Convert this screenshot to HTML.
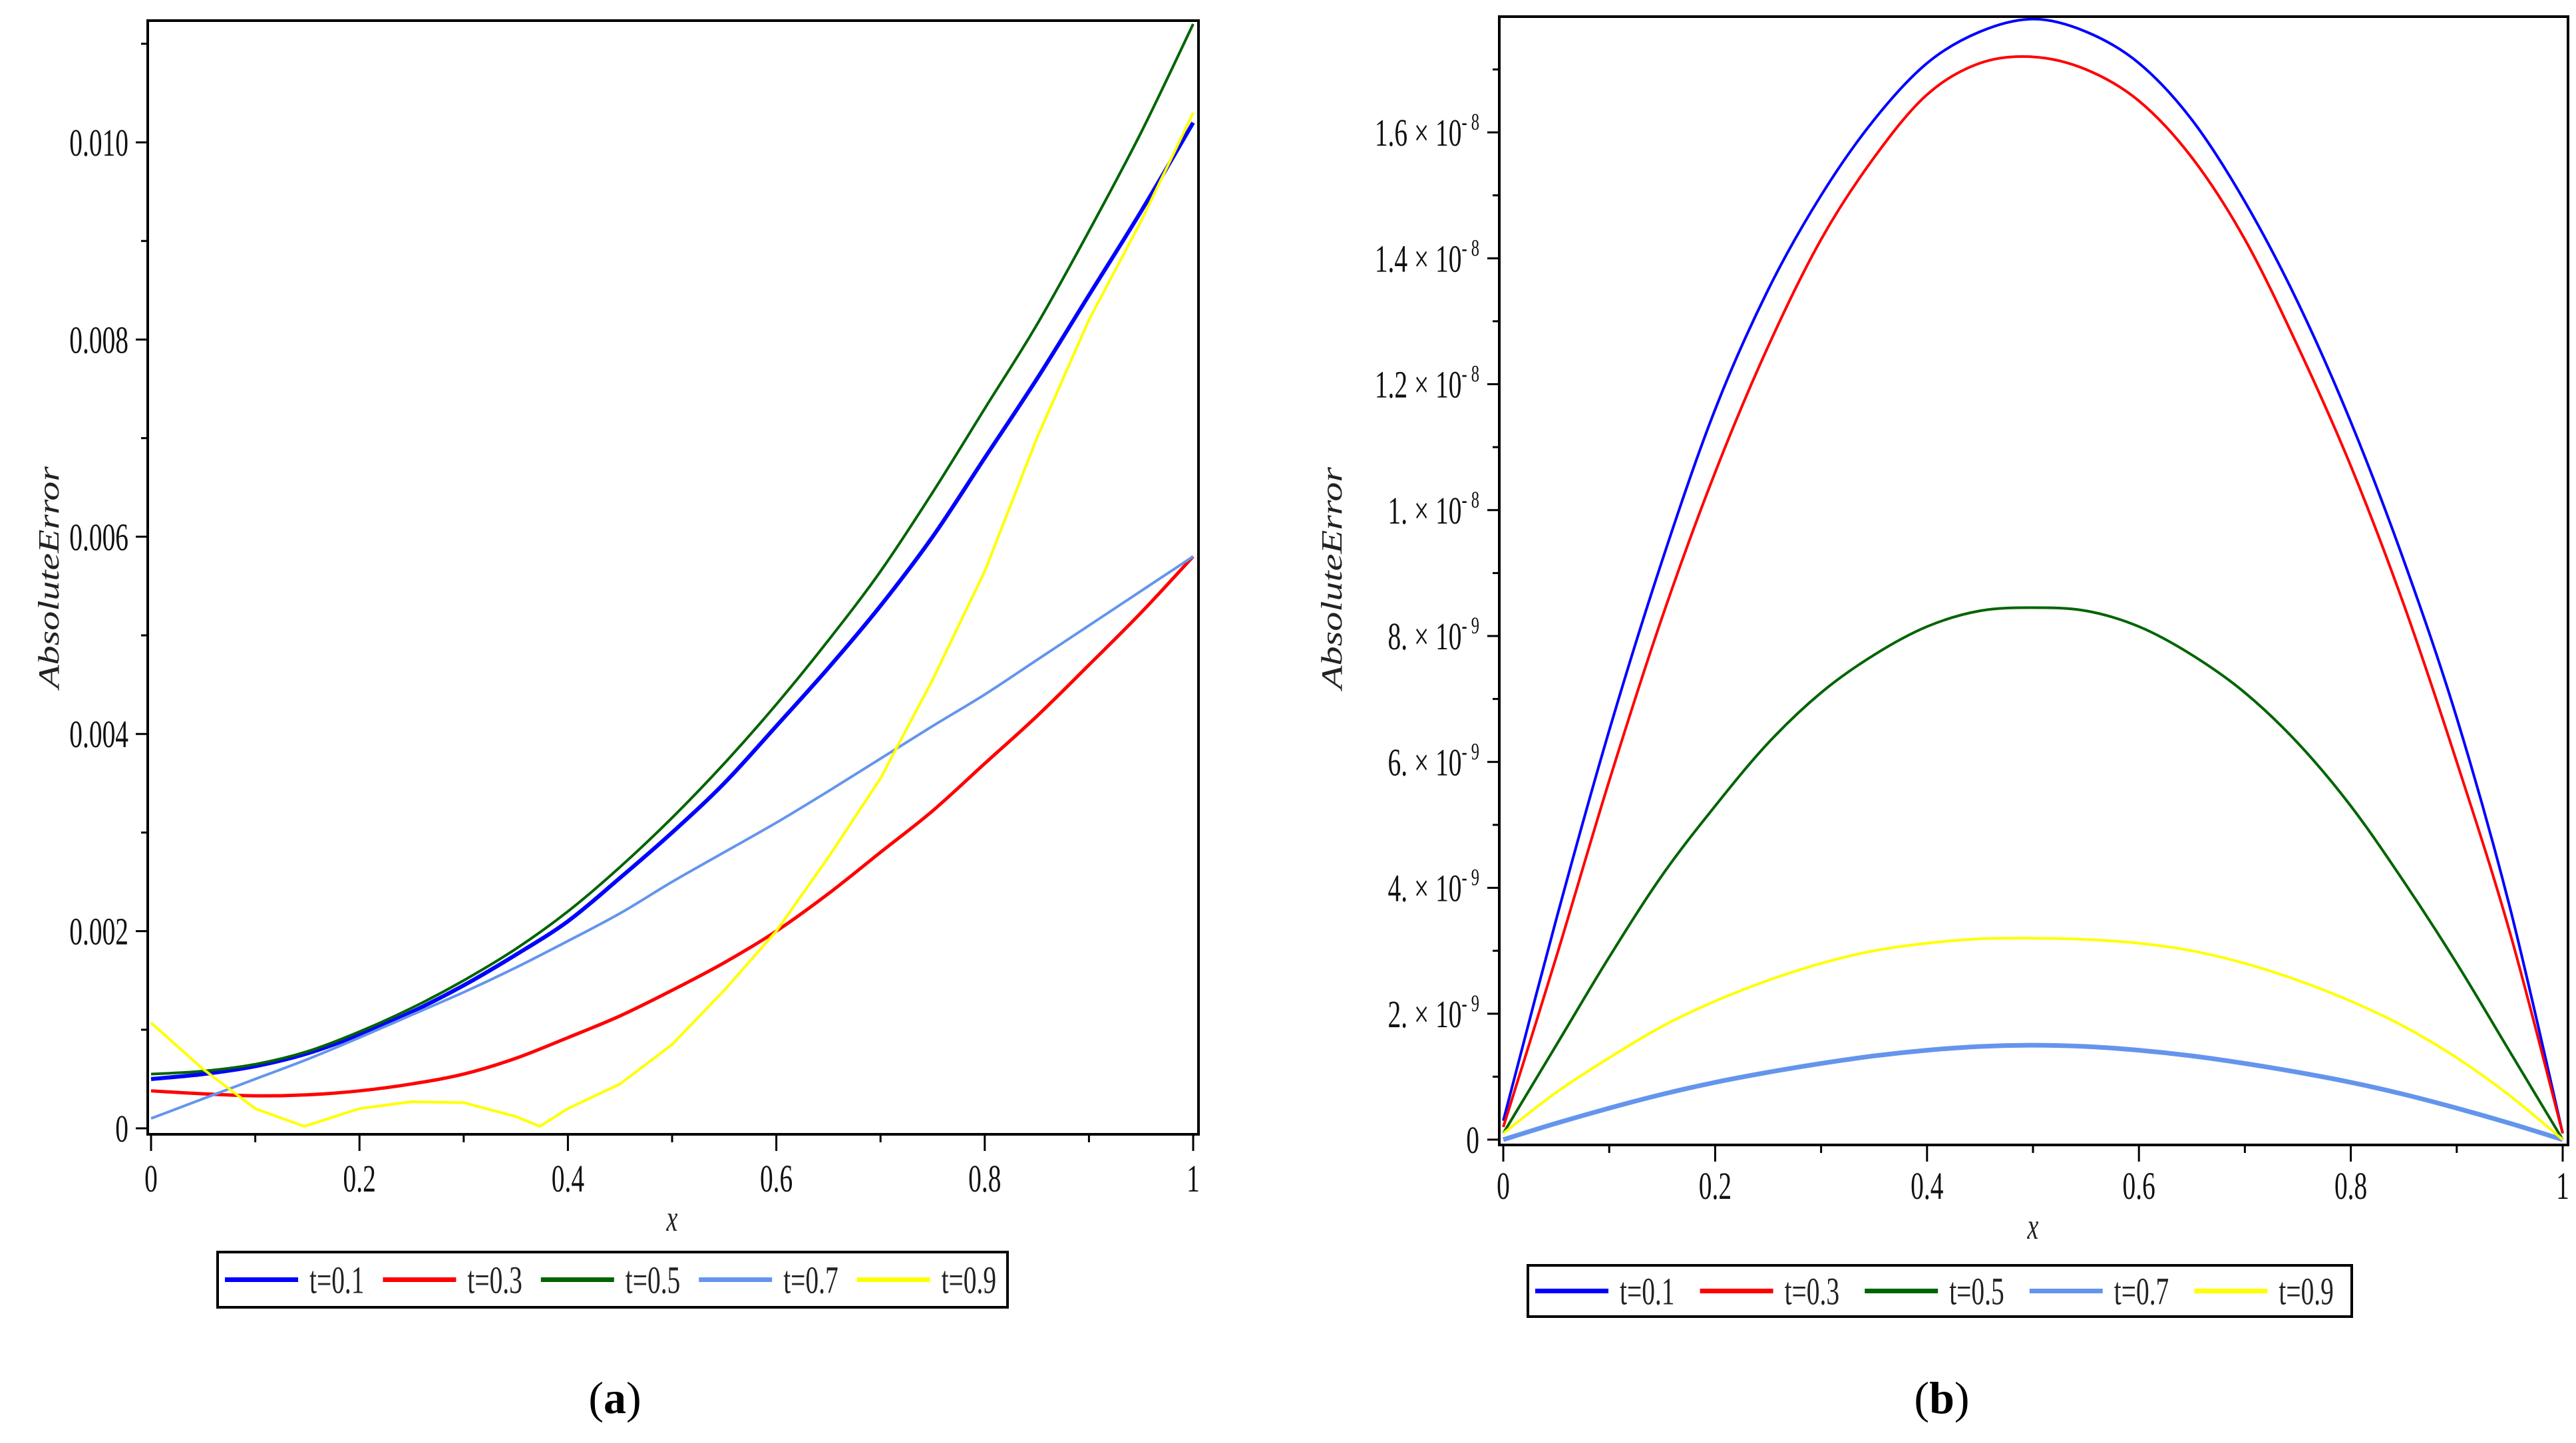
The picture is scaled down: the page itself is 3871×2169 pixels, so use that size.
<!DOCTYPE html>
<html><head><meta charset="utf-8"><style>
html,body{margin:0;padding:0;background:#fff;}
svg{display:block;font-family:"Liberation Serif",serif;}
</style></head><body>
<svg id="fig" width="3871" height="2169" viewBox="0 0 3871 2169" xmlns="http://www.w3.org/2000/svg"></svg>
<script>
// ---------- Panel (a) data ----------
const xsA = [0,0.05,0.1,0.15,0.2,0.25,0.3,0.35,0.4,0.45,0.5,0.55,0.6,0.65,0.7,0.75,0.8,0.85,0.9,0.95,1];
const a_t01 = [0.00050,0.00055,0.00063,0.00076,0.00095,0.00118,0.00145,0.00176,0.00210,0.00254,0.00300,0.00350,0.00408,0.00467,0.00530,0.00600,0.00680,0.00760,0.00845,0.00930,0.01020];
const a_t03 = [0.00038,0.00035,0.00033,0.00034,0.00038,0.00045,0.00055,0.00071,0.00092,0.00114,0.00140,0.00168,0.00200,0.00238,0.00280,0.00322,0.00370,0.00418,0.00470,0.00523,0.00580];
const a_t05 = [0.00055,0.00058,0.00065,0.00078,0.00098,0.00122,0.00150,0.00182,0.00220,0.00265,0.00315,0.00370,0.00430,0.00495,0.00565,0.00645,0.00730,0.00815,0.00910,0.01010,0.01120];
const a_t07 = [0.00010,0.00030,0.00050,0.00070,0.00092,0.00115,0.00138,0.00163,0.00190,0.00218,0.00250,0.00280,0.00310,0.00342,0.00375,0.00408,0.00440,0.00475,0.00510,0.00545,0.00580];
const xsA9 = [0,0.05,0.1,0.147,0.2,0.25,0.3,0.35,0.373,0.4,0.45,0.5,0.55,0.6,0.65,0.7,0.75,0.8,0.85,0.9,0.95,1];
const a_t09 = [0.00107,0.00060,0.00020,0.00002,0.00020,0.00027,0.00026,0.00012,0.00002,0.00020,0.00045,0.00085,0.00140,0.00200,0.00275,0.00355,0.00455,0.00565,0.00700,0.00820,0.00920,0.01030];
const yTicksA = [0,0.002,0.004,0.006,0.008,0.010];
const yTickLabelsA = ["0","0.002","0.004","0.006","0.008","0.010"];
// ---------- Panel (b) data (units 1e-9) ----------
const xsB = [0,0.05,0.1,0.15,0.2,0.25,0.3,0.35,0.4,0.45,0.5,0.55,0.6,0.65,0.7,0.75,0.8,0.85,0.9,0.95,1];
const b_t01 = [0.3,3.5,6.5,9.2,11.6,13.5,15.0,16.2,17.1,17.6,17.8,17.6,17.1,16.2,14.9,13.3,11.4,9.2,6.7,3.7,0.1];
const b_t03 = [0.2,2.9,5.7,8.3,10.6,12.6,14.3,15.6,16.6,17.1,17.2,17.0,16.5,15.6,14.3,12.6,10.7,8.5,6.0,3.3,0.1];
const b_t05 = [0.1,1.5,2.9,4.2,5.3,6.3,7.1,7.7,8.15,8.4,8.45,8.4,8.15,7.7,7.1,6.3,5.3,4.1,2.8,1.4,0];
const b_t07 = [0,0.26,0.5,0.72,0.91,1.07,1.21,1.33,1.42,1.48,1.5,1.48,1.42,1.33,1.21,1.07,0.91,0.72,0.5,0.26,0];
const b_t09 = [0.1,0.75,1.3,1.8,2.2,2.53,2.8,3.0,3.12,3.19,3.2,3.18,3.12,3.0,2.8,2.53,2.2,1.8,1.3,0.7,0];
const yTicksB = [0,2,4,6,8,10,12,14,16];
const yTickMant = ["0","2.","4.","6.","8.","1.","1.2","1.4","1.6"];
const yTickExp = ["","-9","-9","-9","-9","-8","-8","-8","-8"];
const xTicks = [0,0.2,0.4,0.6,0.8,1];
const xTickLabels = ["0","0.2","0.4","0.6","0.8","1"];
const legendLabels = ["t=0.1","t=0.3","t=0.5","t=0.7","t=0.9"];
const colors = ["#0000ff","#ff0000","#006400","#6495ed","#ffff00"];

const NS="http://www.w3.org/2000/svg";
const svg=document.getElementById('fig');
const SX=0.68;
function mk(tag,attrs,parent){const e=document.createElementNS(NS,tag);for(const k in attrs)e.setAttribute(k,attrs[k]);(parent||svg).appendChild(e);return e;}
function ctext(x,y,size,anchor,parent,extra){const a={x:0,y:0,transform:`translate(${x},${y}) scale(${SX},1)`,'text-anchor':anchor,'font-size':size,fill:'#111'};for(const k in (extra||{}))a[k]=extra[k];return mk('text',a,parent);}
function smooth(pts){let d=`M${pts[0][0]},${pts[0][1]}`;for(let i=0;i<pts.length-1;i++){const p0=pts[Math.max(i-1,0)],p1=pts[i],p2=pts[i+1],p3=pts[Math.min(i+2,pts.length-1)];const c1=[p1[0]+(p2[0]-p0[0])/6,p1[1]+(p2[1]-p0[1])/6],c2=[p2[0]-(p3[0]-p1[0])/6,p2[1]-(p3[1]-p1[1])/6];d+=` C${c1[0]},${c1[1]} ${c2[0]},${c2[1]} ${p2[0]},${p2[1]}`;}return d;}

function panel(cfg){
  const g=mk('g',{});
  
  
  const sx=v=>cfg.x0+(cfg.x1-cfg.x0)*v;
  const sy=v=>cfg.y0-(cfg.y0-cfg.yTop)*(v/cfg.ymax);
  cfg.series.forEach((s,i)=>{
    const pts=s.ys.map((y,j)=>[sx(s.xs[j]),sy(y)]);
    const p=mk('path',{d:s.lin?('M'+pts.map(p=>p.join(',')).join(' L')):smooth(pts),fill:'none',stroke:colors[i],'stroke-width':s.w,'stroke-linejoin':'round'},g);
    
    
  });
  const fr=mk('rect',{x:cfg.fl,y:cfg.ft,width:cfg.fr-cfg.fl,height:cfg.fb-cfg.ft,fill:'none',stroke:'#000','stroke-width':4},g);
  
  
  for(let k=0;k<=10;k++){const v=k/10,X=sx(v);mk('line',{x1:X,x2:X,y1:cfg.fb,y2:cfg.fb+(k%2?12:25),stroke:'#000','stroke-width':3},g);}
  xTicks.forEach((v,i)=>{const t=ctext(sx(v),cfg.xly,58,'middle',g);t.textContent=xTickLabels[i];
    
    });
  const minor=cfg.minor;
  for(let v=0;v<=cfg.ymax*1.12;v+=minor){const Y=sy(v);if(Y<cfg.ft)break;const maj=Math.abs(Math.round(v/(minor*2))*minor*2-v)<minor*0.01;mk('line',{x1:cfg.fl-(maj?18:10),x2:cfg.fl,y1:Y,y2:Y,stroke:'#000','stroke-width':3},g);}
  cfg.yLabels(g,sy);
  const xt=ctext(sx(0.5),cfg.xty,56,'middle',g,{'font-style':'italic',fill:'#222'});xt.textContent='x';
  
  
  const yt=mk('text',{x:0,y:0,transform:`translate(${cfg.ytx},${cfg.yty}) rotate(-90)`,'text-anchor':'middle','font-size':44,'font-style':'italic',fill:'#222',textLength:334,lengthAdjust:'spacingAndGlyphs'},g);yt.textContent='AbsoluteError';
  
  
  const L=cfg.leg;
  const lg=mk('g',{},g);
  
  
  mk('rect',{x:L.x,y:L.y,width:L.w,height:L.h,fill:'#fff',stroke:'#000','stroke-width':4},lg);
  const step=L.w/5;
  legendLabels.forEach((lab,i)=>{
    const ex=L.x+11+i*step;
    const e=mk('g',{},lg);
    
    
    mk('line',{x1:ex,x2:ex+110,y1:L.y+L.h/2,y2:L.y+L.h/2,stroke:colors[i],'stroke-width':7},e);
    const t=ctext(ex+127,L.y+L.h/2+20,58,'start',e,{fill:'#222'});t.textContent=lab;
  });
  const c=mk('text',{x:cfg.capx,y:2124,'text-anchor':'middle','font-size':68,fill:'#000'},g);
  c.innerHTML='(<tspan font-weight="bold">'+cfg.cap+'</tspan>)';
  
  
}

panel({name:'panel-a',x0:227,x1:1793,y0:1696,yTop:214,ymax:0.010,fl:222,fr:1801,ft:31,fb:1705,minor:0.001,xly:1791,xty:1850,
  series:[{xs:xsA,ys:a_t01,w:6},{xs:xsA,ys:a_t03,w:5},{xs:xsA,ys:a_t05,w:4},{xs:xsA,ys:a_t07,w:4},{xs:xsA9,ys:a_t09,w:4,lin:true}],
  yLabels:(g,sy)=>{yTicksA.forEach((v,i)=>{const t=ctext(193,sy(v)+20,58,'end',g);t.textContent=yTickLabelsA[i];
    
    });},
  ytx:88,yty:868,leg:{x:327,y:1882,w:1187,h:83},capx:924,cap:'a'});

panel({name:'panel-b',x0:2259,x1:3851,y0:1713,yTop:199,ymax:16,fl:2253,fr:3859,ft:25,fb:1721,minor:1,xly:1802,xty:1862,
  series:[{xs:xsB,ys:b_t01,w:4},{xs:xsB,ys:b_t03,w:4},{xs:xsB,ys:b_t05,w:4},{xs:xsB,ys:b_t07,w:7},{xs:xsB,ys:b_t09,w:4}],
  yLabels:(g,sy)=>{yTicksB.forEach((v,i)=>{
    const t=ctext(2223,sy(v)+20,58,'end',g);
    if(yTickExp[i]) t.innerHTML=yTickMant[i]+' × 10<tspan font-size="36" dy="-24">'+yTickExp[i].replace('-','- ')+'</tspan>';
    else t.textContent=yTickMant[i];
    
    });},
  ytx:2016,yty:869,leg:{x:2296,y:1902,w:1238,h:77},capx:2918,cap:'b'});
</script>
</body></html>
